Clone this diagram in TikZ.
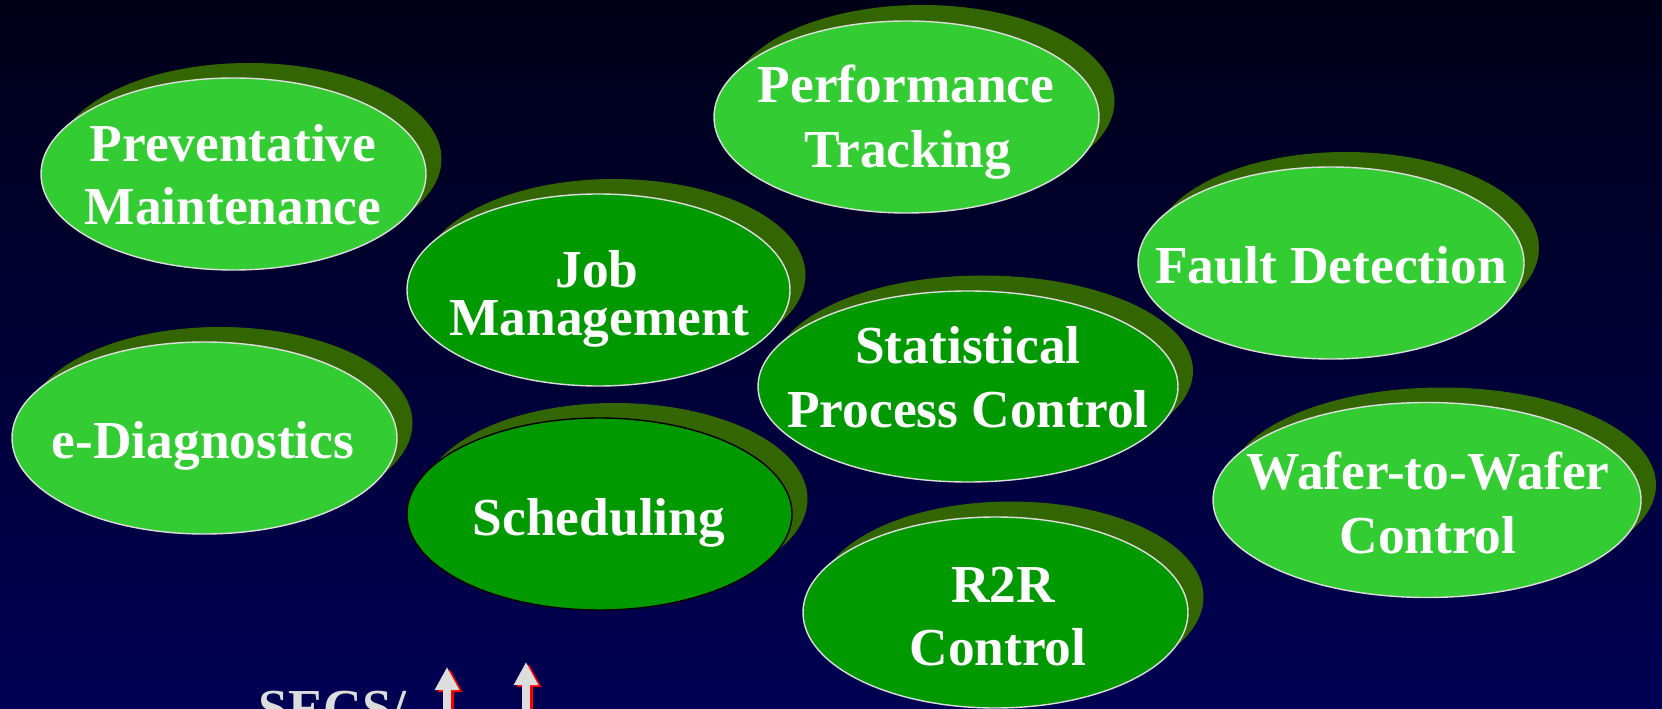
\documentclass[tikz,border=0pt]{standalone}
\usepackage{fontspec}
\setmainfont{Liberation Serif}
\usetikzlibrary{arrows.meta}
\definecolor{bgtop}{RGB}{0,0,24}
\definecolor{bgbot}{RGB}{0,0,84}
\definecolor{litegreen}{RGB}{51,204,51}
\definecolor{darkgreen}{RGB}{0,153,0}
\definecolor{shadowgreen}{RGB}{51,102,0}
\definecolor{rim}{RGB}{221,221,221}
\definecolor{arrowred}{RGB}{255,0,0}

\begin{document}
\begin{tikzpicture}[x=0.02cm, y=-0.02cm,
  shadow/.style={fill=shadowgreen},
  lite/.style={fill=litegreen, draw=rim, line width=0.8pt},
  dark/.style={fill=darkgreen, draw=rim, line width=0.8pt},
  txt/.style={text=white, anchor=base, inner sep=0pt, font=\bfseries\fontsize{30.4}{36}\selectfont},
  upar/.style={line width=0.16cm, -{Triangle[width=0.46cm, length=0.46cm]}}]
\useasboundingbox (0,0) rectangle (1662,709);
\shade[top color=bgtop, bottom color=bgbot] (0,0) rectangle (1662,709);

\fill[shadow] (249,159) ellipse [x radius=192.5, y radius=96];
\draw[lite] (233.5,174) ellipse [x radius=192.5, y radius=96];
\node[txt] (pm1) at (233,162) {Preventative};
\node[txt] (pm2) at (233,225) {Maintenance};

\fill[shadow] (922,101) ellipse [x radius=192.5, y radius=96];
\draw[lite] (906.5,117) ellipse [x radius=192.5, y radius=96];
\node[txt] (pt1) at (906,103) {Performance};
\node[txt] (pt2) at (908,168) {Tracking};

\fill[shadow] (1346,248) ellipse [x radius=193, y radius=96];
\draw[lite] (1331,263) ellipse [x radius=193, y radius=96];
\node[txt] (fd) at (1331,284) {Fault Detection};

\fill[shadow] (614,275) ellipse [x radius=191.5, y radius=96];
\draw[dark] (598.5,290) ellipse [x radius=191.5, y radius=96];
\node[txt] (jm1) at (597,288) {Job};
\node[txt] (jm2) at (599,336) {Management};

\fill[shadow] (220,423) ellipse [x radius=192.5, y radius=96];
\draw[lite] (204.5,438) ellipse [x radius=192.5, y radius=96];
\node[txt] (ed) at (203,458) {e-Diagnostics};

\fill[shadow] (983,371) ellipse [x radius=210, y radius=95.5];
\draw[dark] (968,386.5) ellipse [x radius=210, y radius=95.5];
\node[txt] (spc1) at (968,363) {Statistical};
\node[txt] (spc2) at (968,427) {Process Control};

\fill[shadow] (1442,485) ellipse [x radius=214, y radius=97.5];
\draw[lite] (1427,500) ellipse [x radius=214, y radius=97.5];
\node[txt] (ww1) at (1428,489) {Wafer-to-Wafer};
\node[txt] (ww2) at (1428,553) {Control};

\fill[shadow] (615,499) ellipse [x radius=192.5, y radius=96];
\draw[dark, draw=black] (599.5,514) ellipse [x radius=192.5, y radius=96];
\node[txt] (sch) at (599,535) {Scheduling};

\fill[shadow] (1011,597) ellipse [x radius=192.5, y radius=95.5];
\draw[dark] (995.5,612.5) ellipse [x radius=192.5, y radius=95.5];
\node[txt] (r2r1) at (1003,602) {R2R};
\node[txt] (r2r2) at (998,665) {Control};

\node[txt, text=rim, anchor=base west] (secs) at (258,726) {SECS/};

\coordinate (a1s) at (447,740);
\coordinate (a1t) at (447,667);
\coordinate (a2s) at (526,740);
\coordinate (a2t) at (526,662);
\draw[upar, arrowred] ([shift={(3,2)}]a1s) -- ([shift={(3,2)}]a1t);
\draw[upar, rim] (a1s) -- (a1t);
\draw[upar, arrowred] ([shift={(3,2)}]a2s) -- ([shift={(3,2)}]a2t);
\draw[upar, rim] (a2s) -- (a2t);
\end{tikzpicture}
\end{document}
